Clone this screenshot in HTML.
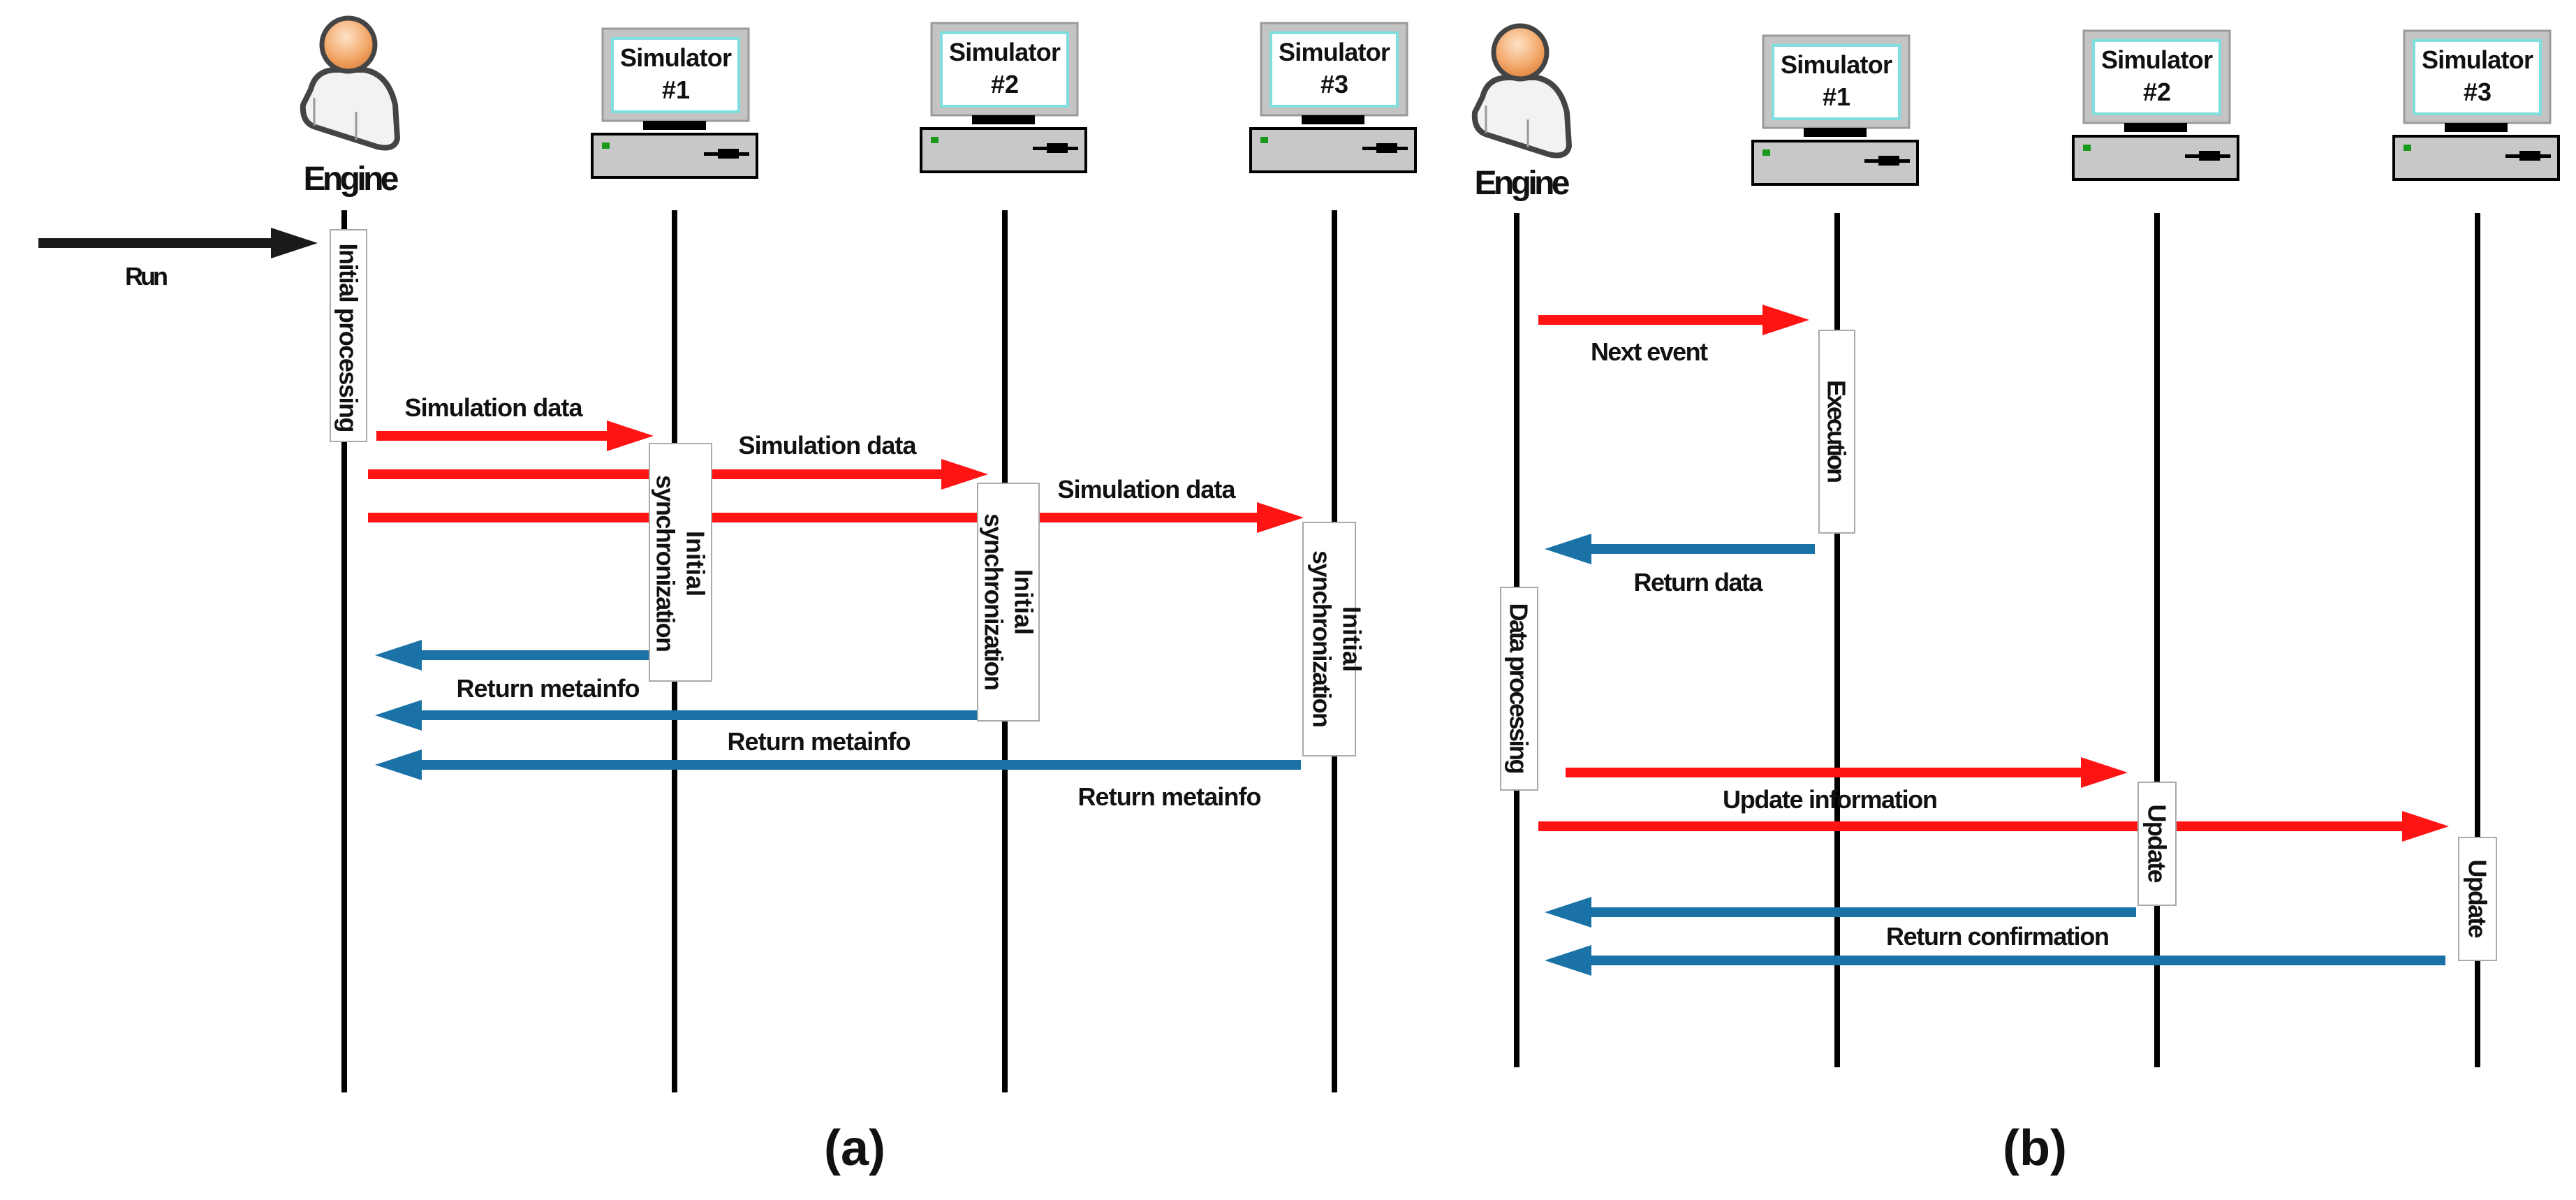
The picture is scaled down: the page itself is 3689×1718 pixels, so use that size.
<!DOCTYPE html>
<html><head><meta charset="utf-8"><style>
html,body{margin:0;padding:0;background:#fff}
svg{display:block}
text{font-family:"Liberation Sans",sans-serif;font-weight:bold;fill:#111}
</style></head><body>
<svg width="3689" height="1718" viewBox="0 0 3689 1718" xmlns="http://www.w3.org/2000/svg">
<defs>
<radialGradient id="hg" cx="0.45" cy="0.35" r="0.7"><stop offset="0" stop-color="#fde3c8"/><stop offset="0.6" stop-color="#f3a86a"/><stop offset="1" stop-color="#d97b35"/></radialGradient>
<g id="person">
<path d="M445,128 Q452,100 482,100 L522,100 Q556,106 566,150 L569,198 Q566,216 540,210 L452,182 Q432,176 434,150 Z" fill="#f2f2f2" stroke="#444" stroke-width="8" stroke-linejoin="round"/>
<line x1="450" y1="140" x2="450" y2="180" stroke="#999" stroke-width="3"/>
<line x1="510" y1="160" x2="510" y2="200" stroke="#999" stroke-width="3"/>
<circle cx="499" cy="64" r="38" fill="url(#hg)" stroke="#444" stroke-width="7"/>
</g>
<g id="pc">
<rect x="-105" y="0" width="209" height="132" fill="#c4c4c4" stroke="#9a9a9a" stroke-width="3"/>
<rect x="-91" y="14" width="181" height="105" fill="#fff" stroke="#7fdede" stroke-width="4"/>
<rect x="-47" y="132" width="90" height="13" fill="#000"/>
<rect x="-120" y="151" width="236" height="62" fill="#c8c8c8" stroke="#000" stroke-width="4"/>
<rect x="-106" y="163" width="11" height="9" fill="#1a9a1a"/>
<rect x="40" y="177" width="65" height="5" fill="#000"/>
<rect x="60" y="172" width="30" height="14" fill="#000"/>
</g>
</defs>

<!-- lifelines -->
<g stroke="#000" stroke-width="8">
<line x1="493" y1="301" x2="493" y2="1564"/>
<line x1="966" y1="301" x2="966" y2="1564"/>
<line x1="1439" y1="301" x2="1439" y2="1564"/>
<line x1="1911" y1="301" x2="1911" y2="1564"/>
<line x1="2172" y1="305" x2="2172" y2="1528"/>
<line x1="2631" y1="305" x2="2631" y2="1528"/>
<line x1="3089" y1="305" x2="3089" y2="1528"/>
<line x1="3548" y1="305" x2="3548" y2="1528"/>
</g>

<!-- actors -->
<use href="#person"/>
<use href="#person" transform="translate(1678,11)"/>
<text x="503" y="272" font-size="48" text-anchor="middle" textLength="137">Engine</text>
<text x="2180" y="278" font-size="48" text-anchor="middle" textLength="137">Engine</text>

<g transform="translate(968,41)"><use href="#pc"/><text x="0" y="54" font-size="36" text-anchor="middle" textLength="160">Simulator</text><text x="0" y="100" font-size="36" text-anchor="middle">#1</text></g>
<g transform="translate(1439,33)"><use href="#pc"/><text x="0" y="54" font-size="36" text-anchor="middle" textLength="160">Simulator</text><text x="0" y="100" font-size="36" text-anchor="middle">#2</text></g>
<g transform="translate(1911,33)"><use href="#pc"/><text x="0" y="54" font-size="36" text-anchor="middle" textLength="160">Simulator</text><text x="0" y="100" font-size="36" text-anchor="middle">#3</text></g>
<g transform="translate(2630,51)"><use href="#pc"/><text x="0" y="54" font-size="36" text-anchor="middle" textLength="160">Simulator</text><text x="0" y="100" font-size="36" text-anchor="middle">#1</text></g>
<g transform="translate(3089,44)"><use href="#pc"/><text x="0" y="54" font-size="36" text-anchor="middle" textLength="160">Simulator</text><text x="0" y="100" font-size="36" text-anchor="middle">#2</text></g>
<g transform="translate(3548,44)"><use href="#pc"/><text x="0" y="54" font-size="36" text-anchor="middle" textLength="160">Simulator</text><text x="0" y="100" font-size="36" text-anchor="middle">#3</text></g>

<!-- arrows -->
<polygon fill="#1a1a1a" points="55,341 388,341 388,326 455,348 388,370 388,355 55,355"/>
<g fill="#ff1414">
<polygon points="539,617 869,617 869,602 936,624 869,646 869,631 539,631"/>
<polygon points="527,672 1348,672 1348,657 1415,679 1348,701 1348,686 527,686"/>
<polygon points="527,734 1800,734 1800,719 1867,741 1800,763 1800,748 527,748"/>
<polygon points="2203,451 2524,451 2524,436 2591,458 2524,480 2524,465 2203,465"/>
<polygon points="2242,1099 2980,1099 2980,1084 3047,1106 2980,1128 2980,1113 2242,1113"/>
<polygon points="2203,1176 3440,1176 3440,1161 3507,1183 3440,1205 3440,1190 2203,1190"/>
</g>
<g fill="#1a72a6">
<polygon points="537,938 604,916 604,931 930,931 930,945 604,945 604,960"/>
<polygon points="537,1024 604,1002 604,1017 1400,1017 1400,1031 604,1031 604,1046"/>
<polygon points="537,1095 604,1073 604,1088 1863,1088 1863,1102 604,1102 604,1117"/>
<polygon points="2212,786 2279,764 2279,779 2599,779 2599,793 2279,793 2279,808"/>
<polygon points="2212,1306 2279,1284 2279,1299 3059,1299 3059,1313 2279,1313 2279,1328"/>
<polygon points="2212,1375 2279,1353 2279,1368 3502,1368 3502,1382 2279,1382 2279,1397"/>
</g>

<!-- activation boxes -->
<g fill="#fff" stroke="#aaa" stroke-width="2">
<rect x="473" y="329" width="52" height="303"/>
<rect x="930" y="635" width="89" height="340"/>
<rect x="1400" y="692" width="88" height="340"/>
<rect x="1866" y="748" width="75" height="334"/>
<rect x="2605" y="473" width="51" height="290"/>
<rect x="2149" y="841" width="53" height="290"/>
<rect x="3062" y="1120" width="54" height="176"/>
<rect x="3521" y="1199" width="54" height="176"/>
</g>

<!-- vertical labels -->
<g font-size="36">
<text transform="translate(499,484) rotate(90)" text-anchor="middle" dominant-baseline="central" textLength="271">Initial processing</text>
<text transform="translate(996,807) rotate(90)" text-anchor="middle" dominant-baseline="central">Initial</text>
<text transform="translate(953,807) rotate(90)" text-anchor="middle" dominant-baseline="central" textLength="254">synchronization</text>
<text transform="translate(1466,862) rotate(90)" text-anchor="middle" dominant-baseline="central">Initial</text>
<text transform="translate(1423,862) rotate(90)" text-anchor="middle" dominant-baseline="central" textLength="254">synchronization</text>
<text transform="translate(1936,915) rotate(90)" text-anchor="middle" dominant-baseline="central">Initial</text>
<text transform="translate(1893,915) rotate(90)" text-anchor="middle" dominant-baseline="central" textLength="254">synchronization</text>
<text transform="translate(2630,618) rotate(90)" text-anchor="middle" dominant-baseline="central" textLength="148">Execution</text>
<text transform="translate(2175,986) rotate(90)" text-anchor="middle" dominant-baseline="central" textLength="245">Data processing</text>
<text transform="translate(3089,1208) rotate(90)" text-anchor="middle" dominant-baseline="central" textLength="113">Update</text>
<text transform="translate(3548,1287) rotate(90)" text-anchor="middle" dominant-baseline="central" textLength="113">Update</text>
</g>

<!-- horizontal labels -->
<g font-size="36" text-anchor="middle">
<text x="210" y="408" textLength="62">Run</text>
<text x="707" y="596" textLength="255">Simulation data</text>
<text x="1185" y="650" textLength="255">Simulation data</text>
<text x="1642" y="713" textLength="255">Simulation data</text>
<text x="785" y="998" textLength="263">Return metainfo</text>
<text x="1173" y="1074" textLength="263">Return metainfo</text>
<text x="1675" y="1153" textLength="263">Return metainfo</text>
<text x="2362" y="516" textLength="168">Next event</text>
<text x="2432" y="846" textLength="185">Return data</text>
<text x="2621" y="1157" textLength="308">Update information</text>
<text x="2861" y="1353" textLength="320">Return confirmation</text>
</g>
<text x="1224" y="1668" font-size="72" text-anchor="middle">(a)</text>
<text x="2914" y="1668" font-size="72" text-anchor="middle">(b)</text>
</svg>
</body></html>
